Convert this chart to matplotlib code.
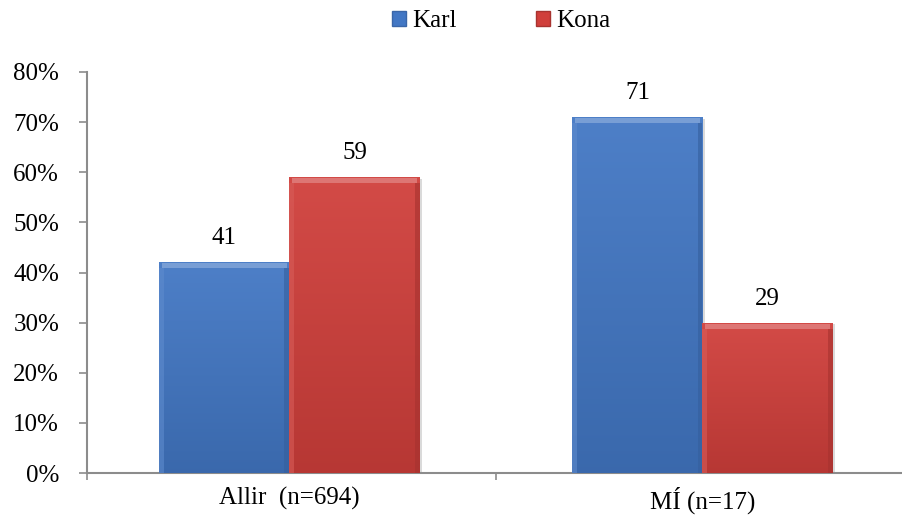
import numpy as np
import matplotlib.pyplot as plt
from matplotlib.patches import Patch

plt.rcParams['font.family'] = ['Liberation Serif', 'DejaVu Serif']

categories = ['Allir  (n=694)', 'MÍ (n=17)']
series = ['Karl', 'Kona']
karl = [42, 71]
kona = [59, 30]
karl_labels = ['41', '71']
kona_labels = ['59', '29']

blue = '#4277c4'
red = '#d03f3b'
axis_col = '#8c8c8c'
fs = 18

fig = plt.figure(figsize=(9.03, 5.25), dpi=100)
ax = fig.add_axes([87 / 903, 52 / 525, 822 / 903, 401 / 525])

x = np.arange(len(categories))
w = 0.315


def shade(c, f):
    c = np.array(plt.matplotlib.colors.to_rgb(c))
    if f > 0:
        return tuple(c + (1 - c) * f)
    return tuple(c * (1 + f))


def bevel_bar(xc, h, col):
    # drop shadow
    ax.bar(xc + 0.006, h, w, bottom=-0.3, color='#dadada', zorder=1)
    b = ax.bar(xc, h, w, color=col, zorder=2)[0]
    # vertical gradient
    grad = np.linspace(0, 1, 100).reshape(-1, 1)
    c_top = np.array(shade(col, 0.06))
    c_bot = np.array(shade(col, -0.12))
    img = c_bot + (c_top - c_bot) * grad[..., None]
    img = np.repeat(img, 2, axis=1)
    im = ax.imshow(img, extent=[xc - w / 2, xc + w / 2, 0, h], origin='lower',
                   aspect='auto', zorder=3, interpolation='bilinear')
    im.set_clip_path(b)
    # bevel edges
    ax.bar(xc, 1.0, w * 0.96, bottom=h - 1.2, color=shade(col, 0.35), zorder=4, alpha=0.8)
    ax.bar(xc - w / 2 + 0.006, h - 1.2, 0.012, color=shade(col, 0.15), zorder=4, alpha=0.6)
    ax.bar(xc + w / 2 - 0.006, h - 1.2, 0.012, color=shade(col, -0.2), zorder=4, alpha=0.6)
    return b


for i in range(len(categories)):
    bevel_bar(x[i] - w / 2, karl[i], blue)
    bevel_bar(x[i] + w / 2, kona[i], red)
    ax.text(x[i] - w / 2, karl[i] + 2.6, karl_labels[i], ha='center', va='bottom', fontsize=fs)
    ax.text(x[i] + w / 2, kona[i] + 2.6, kona_labels[i], ha='center', va='bottom', fontsize=fs)

ax.set_xlim(-0.49, 1.5)
ax.set_ylim(0, 80)
ax.set_yticks(range(0, 81, 10))
ax.set_yticklabels([f'{v}%' for v in range(0, 81, 10)], fontsize=fs)
ax.set_xticks(x)
ax.set_xticklabels(categories, fontsize=fs)
ax.set_xticks([-0.49, 0.5], minor=True)
ax.tick_params(axis='x', which='major', length=0, pad=10)
ax.tick_params(axis='x', which='minor', length=5, color=axis_col, width=1.2)
ax.tick_params(axis='y', length=6, color=axis_col, width=1.2, pad=14)
for s in ['top', 'right']:
    ax.spines[s].set_visible(False)
for s in ['left', 'bottom']:
    ax.spines[s].set_color(axis_col)
    ax.spines[s].set_linewidth(1.5)

handles = [Patch(facecolor=blue, edgecolor='#3a66a8'), Patch(facecolor=red, edgecolor='#a83330')]
fig.legend(handles, series, loc='upper center', bbox_to_anchor=(0.555, 1.024), ncol=2,
           frameon=False, fontsize=fs, handlelength=0.55, handleheight=0.55,
           handletextpad=0.25, columnspacing=3.2)

fig.savefig('out.png', dpi=100)
